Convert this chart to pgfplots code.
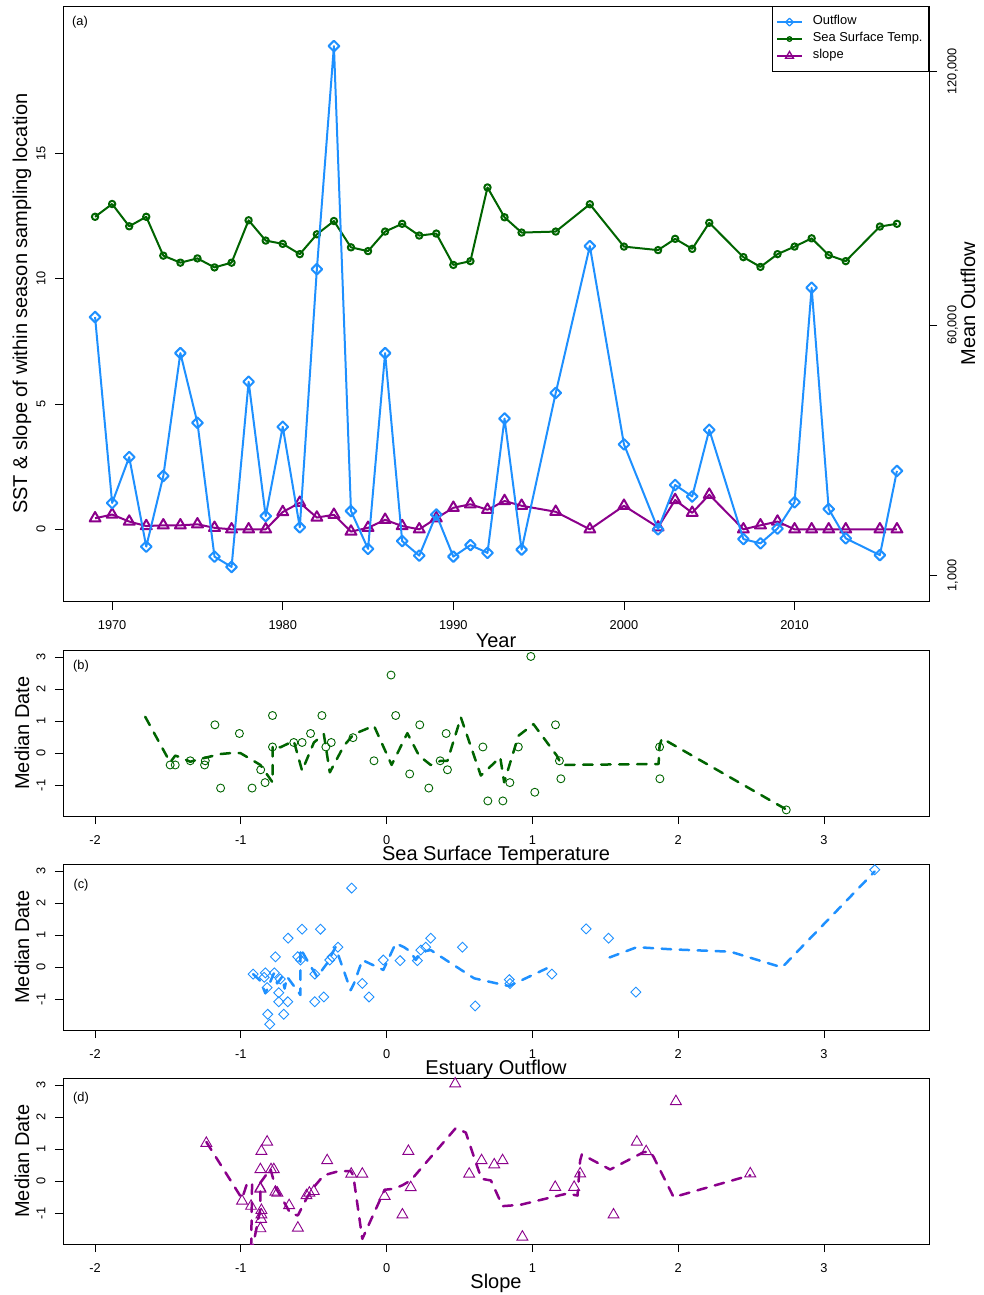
\documentclass[border=0pt]{standalone}
\usepackage{pgfplots}
\usepackage{pgfplotstable}
\pgfplotsset{compat=1.18}
\usepackage{fontspec}
\setmainfont{Liberation Sans}
\definecolor{cblue}{HTML}{1E90FF}
\definecolor{cgreen}{HTML}{006400}
\definecolor{cpurple}{HTML}{8B008B}

\pgfplotstableread{
year sst flow slope
1969 12.47 61978 0.44
1970 12.98 18093 0.59
1971 12.09 28916 0.31
1972 12.47 7802 0.13
1973 10.92 24481 0.16
1974 10.64 53462 0.16
1975 10.81 37019 0.20
1976 10.45 5436 0.06
1977 10.64 3011 0.0
1978 12.33 46719 0.0
1979 11.52 15017 0.0
1980 11.39 36073 0.69
1981 10.98 12356 1.06
1982 11.77 73275 0.47
1983 12.30 125914 0.58
1984 11.25 16200 -0.09
1985 11.10 7269 0.06
1986 11.88 53462 0.38
1987 12.19 9103 0.13
1988 11.72 5673 0.0
1989 11.80 15372 0.44
1990 10.55 5436 0.86
1991 10.70 8157 1.00
1992 13.64 6323 0.78
1993 12.45 38025 1.13
1994 11.84 7092 0.94
1996 11.88 44057 0.70
1998 12.97 78717 0.0
2000 11.28 31933 0.94
2002 11.14 11883 0.08
2003 11.59 22351 1.17
2004 11.19 19631 0.66
2005 12.23 35363 1.38
2007 10.86 9576 0.0
2008 10.47 8571 0.16
2009 10.98 12060 0.31
2010 11.28 18270 0.0
2011 11.61 68898 0.0
2012 10.94 16674 0.0
2013 10.70 9753 0.0
2015 12.08 5791 0.0
2016 12.19 25664 0.0
}\maindata

\newcommand{\tickfont}{\fontsize{12.8}{14}\selectfont}
\newcommand{\labfont}{\fontsize{20}{22}\selectfont}

\pgfplotsset{
  rpanel/.style={
    scale only axis, clip=true,
    axis line style={black, line width=0.9pt},
    tick style={black, line width=0.9pt},
    tick align=outside, major tick length=8pt,
    xtick pos=left, ytick pos=left,
    every tick label/.append style={font=\tickfont},
    xticklabel shift=8pt,
    yticklabel style={rotate=90, anchor=south},
    yticklabel shift=6pt,
    label style={font=\labfont},
    xlabel style={at={(axis description cs:0.5,0)}, anchor=center, yshift=-39.5pt},
    ylabel style={at={(axis description cs:-0.0473,0.5)}, anchor=center},
  },
  scpanel/.style={rpanel, width=866pt, height=166pt,
    xmin=-2.22, xmax=3.72, ymin=-1.95, ymax=3.22,
    xtick={-2,-1,0,1,2,3}, xticklabels={-2,-1,0,1,2,3},
    ytick={-1,0,1,2,3}, yticklabels={-1,0,1,2,3},
    ylabel={Median Date}},
  smooth line/.style={line width=2.5pt, line cap=round, line join=round, dash pattern=on 9.5pt off 8.5pt, no marks},
}

\begin{document}
\begin{tikzpicture}
\path[use as bounding box] (0pt,0pt) rectangle (983pt,-1295pt);

% ---------- panel (a)
\begin{axis}[rpanel, at={(63pt,-601.5pt)}, anchor=south west, width=866pt, height=595.5pt,
  xmin=1967.12, xmax=2017.88, ymin=-2.88, ymax=20.88,
  xtick={1970,1980,1990,2000,2010}, xticklabels={1970,1980,1990,2000,2010},
  ytick={0,5,10,15}, yticklabels={0,5,10,15},
  xlabel={Year}, ylabel={SST \& slope of within season sampling location}]
\addplot[cgreen, line width=2pt, line join=round, mark=o, mark size=3.2pt, mark options={solid}] table[x=year,y=sst]{\maindata};
\addplot[cpurple, line width=2pt, line join=round, mark=triangle, mark size=6.3pt, mark options={solid}] table[x=year,y=slope]{\maindata};
\node[font=\tickfont] at (rel axis cs:0.0196,0.973) {(a)};
\end{axis}

\begin{axis}[scale only axis, at={(63pt,-601.5pt)}, anchor=south west, width=866pt, height=595.5pt,
  xmin=1967.12, xmax=2017.88, ymin=-5151, ymax=135378,
  axis x line=none, axis y line*=right,
  axis line style={black, line width=0.9pt}, tick style={black, line width=0.9pt},
  tick align=outside, major tick length=8pt,
  ytick={1000,60000,120000}, yticklabels={{1,000},{60,000},{120,000}},
  yticklabel style={rotate=90, anchor=north, font=\tickfont}, yticklabel shift=7pt,
  ylabel={Mean Outflow}, ylabel style={at={(axis description cs:1.045,0.5)}, anchor=center, font=\labfont},
  legend style={at={(1,1)}, anchor=north east, draw=black, line width=0.9pt, font=\fontsize{12.9}{15}\selectfont,
    inner xsep=4pt, inner ysep=9pt, row sep=3.5pt, cells={anchor=west},
    nodes={inner sep=2pt, text height=0.72em, text depth=0.22em},
    /tikz/every odd column/.append style={column sep=8pt}},
  legend image code/.code={\draw[mark repeat=2, mark phase=2, line width=1.7pt, every mark/.append style={scale=0.72, line width=1.3pt}] plot coordinates {(0pt,0pt) (12.5pt,0pt) (25pt,0pt)};}]
\addplot[cblue, line width=2pt, line join=round, mark=square, mark size=3.8pt, mark options={solid, rotate=45}] table[x=year,y=flow]{\maindata};
\addlegendentry{Outflow}
\addlegendimage{cgreen, line width=2pt, mark=o, mark size=3.2pt, mark options={solid}}
\addlegendentry{Sea Surface Temp.}
\addlegendimage{cpurple, line width=2pt, mark=triangle, mark size=6.3pt, mark options={solid}}
\addlegendentry{slope}
\end{axis}

% ---------- panel (b)
\begin{axis}[scpanel, at={(63pt,-816pt)}, anchor=south west, xlabel={Sea Surface Temperature}]
\addplot[only marks, cgreen, mark=o, mark size=4pt, line width=0.9pt] table {
x y
-1.485 -0.36
-1.45 -0.36
-1.347 -0.23
-1.244 -0.23
-1.249 -0.36
-1.139 -1.08
-1.178 0.89
-1.010 0.62
-0.923 -1.08
-0.864 -0.51
-0.834 -0.91
-0.783 0.20
-0.783 1.18
-0.637 0.34
-0.580 0.34
-0.522 0.62
-0.444 1.18
-0.417 0.20
-0.380 0.34
-0.231 0.49
-0.087 -0.23
0.030 2.44
0.062 1.18
0.158 -0.64
0.227 0.89
0.289 -1.08
0.367 -0.23
0.408 0.62
0.417 -0.51
0.660 0.20
0.694 -1.48
0.797 -1.48
0.845 -0.91
0.903 0.20
0.989 3.02
1.016 -1.21
1.158 0.89
1.185 -0.23
1.195 -0.79
1.872 0.20
1.874 -0.79
2.741 -1.76
};
\addplot[cgreen, smooth line] table {
x y
-1.656 1.14
-1.485 -0.28
-1.45 -0.07
-1.416 -0.12
-1.347 -0.26
-1.301 -0.20
-1.141 -0.02
-1.068 0.01
-1.003 0.01
-0.866 -0.36
-0.783 -0.90
-0.783 0.24
-0.729 0.19
-0.637 0.39
-0.580 -0.54
-0.499 0.34
-0.431 0.60
-0.390 -0.59
-0.293 0.24
-0.225 0.60
-0.087 0.86
0.034 -0.36
0.142 0.63
0.222 -0.07
0.302 -0.36
0.371 -0.23
0.417 -0.23
0.509 1.12
0.646 -0.69
0.779 -0.12
0.806 -0.90
0.904 0.55
1.007 0.91
1.167 -0.07
1.185 -0.23
1.201 -0.36
1.865 -0.33
1.872 0.24
1.888 0.47
2.746 -1.76
};
\node[font=\tickfont] at (rel axis cs:0.0208,0.90) {(b)};
\end{axis}

% ---------- panel (c)
\begin{axis}[scpanel, at={(63pt,-1030pt)}, anchor=south west, xlabel={Estuary Outflow}]
\addplot[only marks, cblue, mark=square, mark size=3.5pt, line width=0.9pt, mark options={rotate=45}] table {
x y
-0.916 -0.21
-0.832 -0.17
-0.84 -0.31
-0.82 -0.63
-0.816 -1.46
-0.802 -1.77
-0.763 0.33
-0.77 -0.17
-0.73 -0.36
-0.74 -0.79
-0.74 -1.07
-0.706 -1.46
-0.678 -1.07
-0.676 0.91
-0.61 0.33
-0.591 0.23
-0.580 1.19
-0.493 -0.21
-0.493 -1.07
-0.454 1.19
-0.431 -0.92
-0.39 0.23
-0.374 0.33
-0.334 0.63
-0.24 2.47
-0.167 -0.5
-0.121 -0.92
-0.023 0.23
0.092 0.21
0.211 0.21
0.234 0.54
0.268 0.63
0.302 0.91
0.52 0.63
0.607 -1.2
0.841 -0.38
0.846 -0.5
1.133 -0.21
1.368 1.20
1.522 0.91
1.709 -0.77
3.348 3.04
};
\addplot[cblue, smooth line] table {
x y
-0.916 -0.21
-0.866 -0.42
-0.832 -0.81
-0.774 -0.19
-0.751 -0.50
-0.717 -0.29
-0.700 -0.66
-0.683 -0.29
-0.591 -0.86
-0.591 0.59
-0.534 0.13
-0.477 -0.29
-0.408 0.13
-0.351 0.63
-0.247 -0.71
-0.224 -0.50
-0.167 0.23
-0.023 -0.08
0.062 0.75
0.119 0.63
0.165 0.49
0.199 0.23
0.245 0.49
0.302 0.54
0.600 -0.34
0.806 -0.55
0.841 -0.58
1.098 -0.03
};
\addplot[cblue, smooth line] table {
x y
1.529 0.31
1.716 0.63
1.968 0.56
2.357 0.49
2.712 0.00
3.348 2.99
};
\node[font=\tickfont] at (rel axis cs:0.0208,0.875) {(c)};
\end{axis}

% ---------- panel (d)
\begin{axis}[scpanel, at={(63pt,-1244pt)}, anchor=south west, xlabel={Slope}]
\addplot[only marks, cpurple, mark=triangle, mark size=6.3pt, line width=0.9pt] table {
x y
-1.237 1.19
-0.992 -0.61
-0.93 -0.77
-0.866 -0.21
-0.866 -0.24
-0.82 1.23
-0.859 0.94
-0.866 0.37
-0.859 -0.90
-0.859 -1.04
-0.861 -1.18
-0.866 -1.47
-0.793 0.37
-0.774 0.37
-0.763 -0.33
-0.75 -0.36
-0.669 -0.75
-0.609 -1.45
-0.55 -0.44
-0.53 -0.36
-0.5 -0.31
-0.408 0.65
-0.243 0.23
-0.167 0.23
-0.014 -0.46
0.108 -1.04
0.149 0.94
0.165 -0.19
0.47 3.04
0.566 0.23
0.651 0.65
0.738 0.52
0.795 0.65
0.931 -1.73
1.156 -0.18
1.286 -0.18
1.327 0.24
1.556 -1.04
1.716 1.23
1.78 0.93
1.984 2.49
2.494 0.24
};
\addplot[cpurple, smooth line] table {
x y
-1.237 1.23
-0.992 -0.54
-0.958 -0.07
-0.923 -0.04
-0.930 -2.3
-0.866 -0.85
-0.866 -0.04
-0.797 0.39
-0.763 -0.18
-0.717 -0.54
-0.660 -1.00
-0.609 -1.06
-0.545 -0.49
-0.500 -0.18
-0.431 0.19
-0.328 0.32
-0.247 0.32
-0.229 0.19
-0.167 -1.79
-0.014 -0.26
0.050 -0.23
0.108 -0.12
0.165 0.03
0.474 1.66
0.543 1.52
0.612 0.58
0.651 0.08
0.715 0.03
0.795 -0.77
0.916 -0.73
1.236 -0.38
1.309 -0.44
1.327 0.65
1.339 0.84
1.533 0.37
1.762 0.91
1.808 0.93
1.831 0.76
1.968 -0.49
2.494 0.19
};
\node[font=\tickfont] at (rel axis cs:0.0208,0.88) {(d)};
\end{axis}
\end{tikzpicture}
\end{document}
